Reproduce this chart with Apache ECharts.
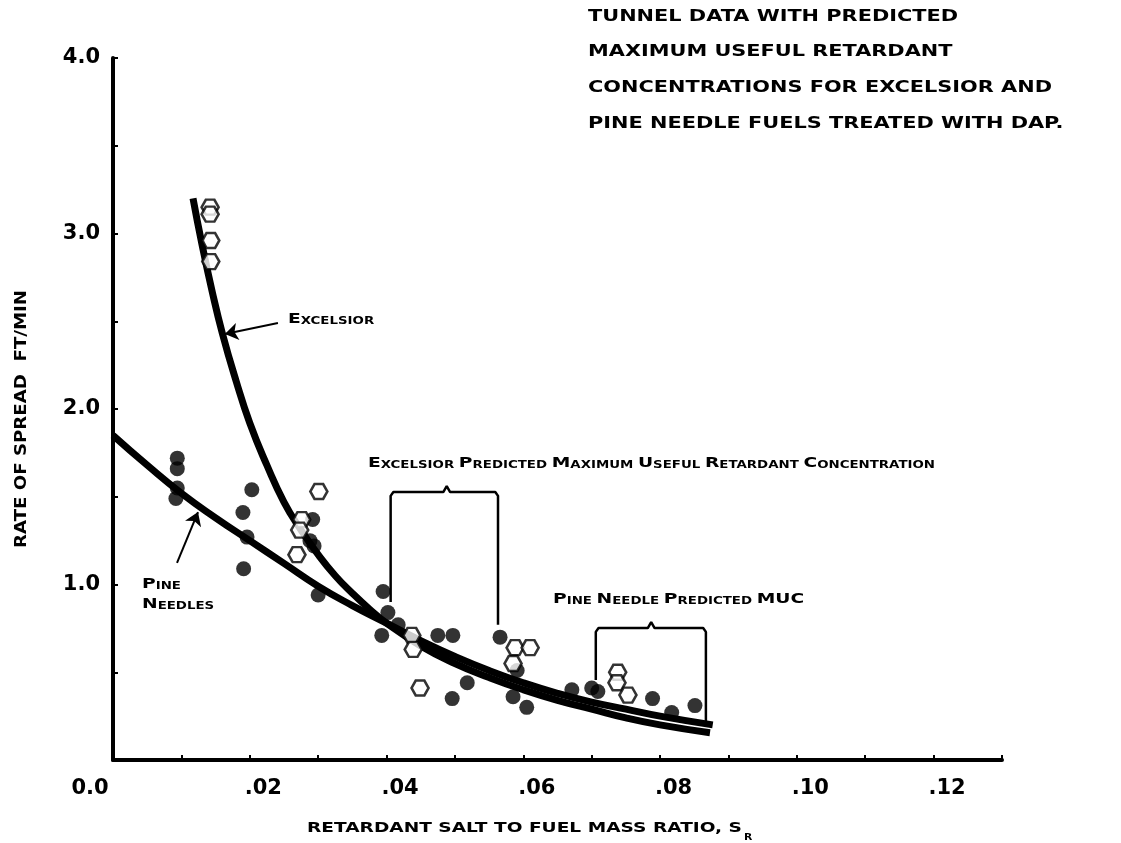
<!DOCTYPE html>
<html><head><meta charset="utf-8">
<script src="https://cdn.jsdelivr.net/npm/echarts@6/dist/echarts.min.js"></script>
<style>html,body{margin:0;padding:0;background:#fff}#c{width:1121px;height:843px}</style>
</head><body><div id="c"></div>
<script>
// ---------------- data ----------------
const xTickValues = [0, 0.02, 0.04, 0.06, 0.08, 0.10, 0.12];
const xTickLabels = ['0.0', '.02', '.04', '.06', '.08', '.10', '.12'];
const yTickValues = [1, 2, 3, 4];
const yTickLabels = ['1.0', '2.0', '3.0', '4.0'];

// filled circles: pine needle tunnel data
const pineDataX = [0.0094,0.0094,0.0094,0.0092, 0.0203,0.0190,0.0196,0.0191,
  0.0292,0.0288,0.0294,0.0300, 0.0395,0.0402,0.0393,0.0417, 0.0475,0.0497,0.0518,0.0496,
  0.0566,0.0591,0.0585,0.0605, 0.0671,0.0700,0.0709,0.0789,0.0817,0.0851];
const pineDataY = [1.72,1.66,1.55,1.49, 1.54,1.41,1.27,1.09,
  1.37,1.25,1.22,0.94, 0.96,0.84,0.71,0.77, 0.71,0.71,0.44,0.35,
  0.70,0.51,0.36,0.30, 0.40,0.41,0.39,0.35,0.27,0.31];

// open hexagons: excelsior tunnel data
const excelsiorDataX = [0.0142,0.0142,0.0143,0.0143, 0.0301,0.0276,0.0273,0.0269,
  0.0437,0.0439,0.0449, 0.0588,0.0610,0.0585, 0.0738,0.0737,0.0753];
const excelsiorDataY = [3.15,3.11,2.96,2.84, 1.53,1.37,1.31,1.17,
  0.71,0.63,0.41, 0.64,0.64,0.55, 0.50,0.44,0.37];

// fitted curves
const pineCurveX = [0,0.005,0.010,0.015,0.020,0.025,0.030,0.035,0.040,0.045,0.050,0.055,0.060,0.065,0.070,0.075,0.080,0.0877];
const pineCurveY = [1.85,1.68,1.52,1.38,1.25,1.12,0.99,0.88,0.78,0.68,0.59,0.51,0.44,0.38,0.33,0.29,0.25,0.20];
const excelsiorCurveX = [0.0117,0.013,0.0145,0.016,0.018,0.020,0.0225,0.025,0.0275,0.030,0.0325,0.035,0.0375,0.040,0.045,0.050,0.055,0.060,0.065,0.070,0.075,0.080,0.0873];
const excelsiorCurveY = [3.20,2.94,2.67,2.43,2.16,1.92,1.68,1.47,1.31,1.17,1.05,0.95,0.86,0.78,0.65,0.55,0.47,0.40,0.34,0.29,0.24,0.20,0.155];

// predicted maximum useful retardant concentration brackets
const excelsiorMucX = [0.0406,0.0406,0.0410,0.0483,0.0488,0.0493,0.0559,0.0563,0.0563];
const excelsiorMucY = [0.90,1.505,1.527,1.527,1.56,1.527,1.527,1.505,0.77];
const pineMucX = [0.0706,0.0706,0.0710,0.0782,0.0787,0.0792,0.0863,0.0867,0.0867];
const pineMucY = [0.456,0.730,0.752,0.752,0.786,0.752,0.752,0.730,0.188];

// label arrows [fromX, fromY, toX, toY]
const pineArrow = [0.00936, 1.123, 0.01243, 1.413];
const excelsiorArrow = [0.02412, 2.490, 0.01637, 2.427];

const titleLines = ['TUNNEL DATA WITH PREDICTED', 'MAXIMUM USEFUL RETARDANT',
  'CONCENTRATIONS FOR EXCELSIOR AND', 'PINE NEEDLE FUELS TREATED WITH DAP.'];
const yAxisTitle = 'RATE OF SPREAD  FT/MIN';
const xAxisTitle = 'RETARDANT SALT TO FUEL MASS RATIO, S';
const xAxisTitleSub = 'R';
const excelsiorMucText = 'Excelsior Predicted Maximum Useful Retardant Concentration';
const pineMucText = 'Pine Needle Predicted MUC';
const excelsiorLabel = 'Excelsior';
const pineLabel = ['Pine', 'Needles'];

// ---------------- helpers ----------------
const FAM = '"DejaVu Sans", sans-serif';
const mctx = document.createElement('canvas').getContext('2d');
function tw(text, size) { mctx.font = 'bold ' + size + 'px ' + FAM; return mctx.measureText(text).width; }
const zip = (xs, ys) => xs.map((x, i) => [x, ys[i]]);

const BIG = 14, SMALL = 10;
function scParts(str) {
  const parts = [];
  for (const ch of str) {
    const k = (ch >= 'A' && ch <= 'Z') ? 'b' : 's';
    const t = ch.toUpperCase();
    if (parts.length && parts[parts.length - 1][0] === k) parts[parts.length - 1][1] += t;
    else parts.push([k, t]);
  }
  return parts;
}
function scText(str) { return scParts(str).map(p => '{' + p[0] + '|' + p[1] + '}').join(''); }
function scWidth(str) { return scParts(str).reduce((a, p) => a + tw(p[1], p[0] === 'b' ? BIG : SMALL), 0); }
const scRich = {
  b: { fontSize: BIG, fontWeight: 'bold', fontFamily: FAM, color: '#000', verticalAlign: 'bottom', lineHeight: 16 },
  s: { fontSize: SMALL, fontWeight: 'bold', fontFamily: FAM, color: '#000', verticalAlign: 'bottom', lineHeight: 16 }
};
const SC_SCALE = 567 / scWidth(excelsiorMucText);
function scEl(str, x, y) {
  return { type: 'text', x: x, y: y, scaleX: SC_SCALE, z: 100,
    style: { text: scText(str), rich: scRich, fill: '#000', align: 'left', verticalAlign: 'middle',
      textAlign: 'left', textVerticalAlign: 'middle' } };
}
function plainEl(str, x, y, size, scale) {
  return { type: 'text', x: x, y: y, scaleX: scale, z: 100,
    style: { text: str, font: 'bold ' + size + 'px ' + FAM, fill: '#000', align: 'left', verticalAlign: 'middle',
      textAlign: 'left', textVerticalAlign: 'middle' } };
}

// ---------------- text layout ----------------
const TITLE_SIZE = 16;
const TITLE_SCALE = 370 / tw(titleLines[0], TITLE_SIZE);
const titleY = [17, 52, 88, 124];
const graphics = titleLines.map((t, i) => plainEl(t, 588, titleY[i], TITLE_SIZE, TITLE_SCALE));

const XT_SIZE = 14;
const XT_SCALE = 435 / tw(xAxisTitle, XT_SIZE);
graphics.push(plainEl(xAxisTitle, 307, 828, XT_SIZE, XT_SCALE));
graphics.push(plainEl(xAxisTitleSub, 307 + 437, 838, 9, 1.2));

const YT_SIZE = 15;
const YT_SCALE = 258 / tw(yAxisTitle, YT_SIZE);
graphics.push({ type: 'text', x: 22, y: 419, rotation: Math.PI / 2, scaleX: YT_SCALE, z: 100,
  style: { text: yAxisTitle, font: 'bold ' + YT_SIZE + 'px ' + FAM, fill: '#000', align: 'center', verticalAlign: 'middle',
    textAlign: 'center', textVerticalAlign: 'middle' } });

graphics.push(scEl(excelsiorMucText, 368, 462));
graphics.push(scEl(pineMucText, 553, 598));
graphics.push(scEl(excelsiorLabel, 288, 318));
graphics.push(scEl(pineLabel[0], 142, 583));
graphics.push(scEl(pineLabel[1], 142, 603));

// ---------------- chart ----------------
function xFmt(v) {
  const i = xTickValues.findIndex(t => Math.abs(t - v) < 1e-9);
  if (i < 0) return '';
  return i === 0 ? '{z|' + xTickLabels[i] + '}' : '{d|' + xTickLabels[i] + '}';
}
function yFmt(v) {
  const i = yTickValues.findIndex(t => Math.abs(t - v) < 1e-9);
  return i < 0 ? '' : yTickLabels[i];
}
const labFont = { fontSize: 21, fontWeight: 'bold', fontFamily: FAM, color: '#000' };
const hexPath = 'path://M-1,0 L-0.5,-0.866 L0.5,-0.866 L1,0 L0.5,0.866 L-0.5,0.866 Z';

const chart = echarts.init(document.getElementById('c'), null, { renderer: 'canvas' });
chart.setOption({
  animation: false,
  backgroundColor: '#fff',
  grid: { left: 113, right: 119, top: 58, bottom: 83 },
  xAxis: {
    type: 'value', min: 0, max: 0.13, interval: 0.01,
    axisLine: { show: true, onZero: false, lineStyle: { color: '#000', width: 4 } },
    axisTick: { show: true, inside: true, length: 5, lineStyle: { color: '#000', width: 2 } },
    splitLine: { show: false },
    axisLabel: { show: true, margin: 18, formatter: xFmt,
      rich: { z: Object.assign({ padding: [0, 46, 0, 0] }, labFont), d: Object.assign({ padding: [0, 0, 0, 27] }, labFont) } }
  },
  yAxis: {
    type: 'value', min: 0, max: 4, interval: 0.5,
    axisLine: { show: true, onZero: false, lineStyle: { color: '#000', width: 4 } },
    axisTick: { show: true, inside: true, length: 5, lineStyle: { color: '#000', width: 2 } },
    splitLine: { show: false },
    axisLabel: Object.assign({ show: true, margin: 13, formatter: yFmt, padding: [5, 0, 0, 0] }, labFont)
  },
  graphic: graphics,
  series: [
    { type: 'line', name: 'Pine needles fit', data: zip(pineCurveX, pineCurveY), smooth: 0.5,
      showSymbol: false, symbol: 'none', z: 2, lineStyle: { color: '#000', width: 7 } },
    { type: 'line', name: 'Excelsior fit', data: zip(excelsiorCurveX, excelsiorCurveY), smooth: 0.5,
      showSymbol: false, symbol: 'none', z: 2, lineStyle: { color: '#000', width: 7 } },
    { type: 'line', name: 'Excelsior MUC', data: zip(excelsiorMucX, excelsiorMucY), smooth: false, symbol: 'none', z: 2,
      lineStyle: { color: '#000', width: 2.5 },
      markLine: { silent: true, symbol: ['none', 'arrow'], symbolSize: 13, label: { show: false },
        lineStyle: { color: '#000', width: 2, type: 'solid' },
        data: [
          [{ coord: [pineArrow[0], pineArrow[1]] }, { coord: [pineArrow[2], pineArrow[3]] }],
          [{ coord: [excelsiorArrow[0], excelsiorArrow[1]] }, { coord: [excelsiorArrow[2], excelsiorArrow[3]] }]
        ] } },
    { type: 'line', name: 'Pine needle MUC', data: zip(pineMucX, pineMucY), smooth: false, symbol: 'none', z: 2,
      lineStyle: { color: '#000', width: 2.5 } },
    { type: 'scatter', name: 'Pine needles', data: zip(pineDataX, pineDataY), symbol: 'circle', symbolSize: 15, z: 4,
      itemStyle: { color: '#000' } },
    { type: 'scatter', name: 'Excelsior', data: zip(excelsiorDataX, excelsiorDataY), symbol: hexPath, symbolSize: [17, 15], z: 5,
      itemStyle: { color: '#fff', borderColor: '#000', borderWidth: 2.5 } }
  ]
});
</script>
</body></html>
